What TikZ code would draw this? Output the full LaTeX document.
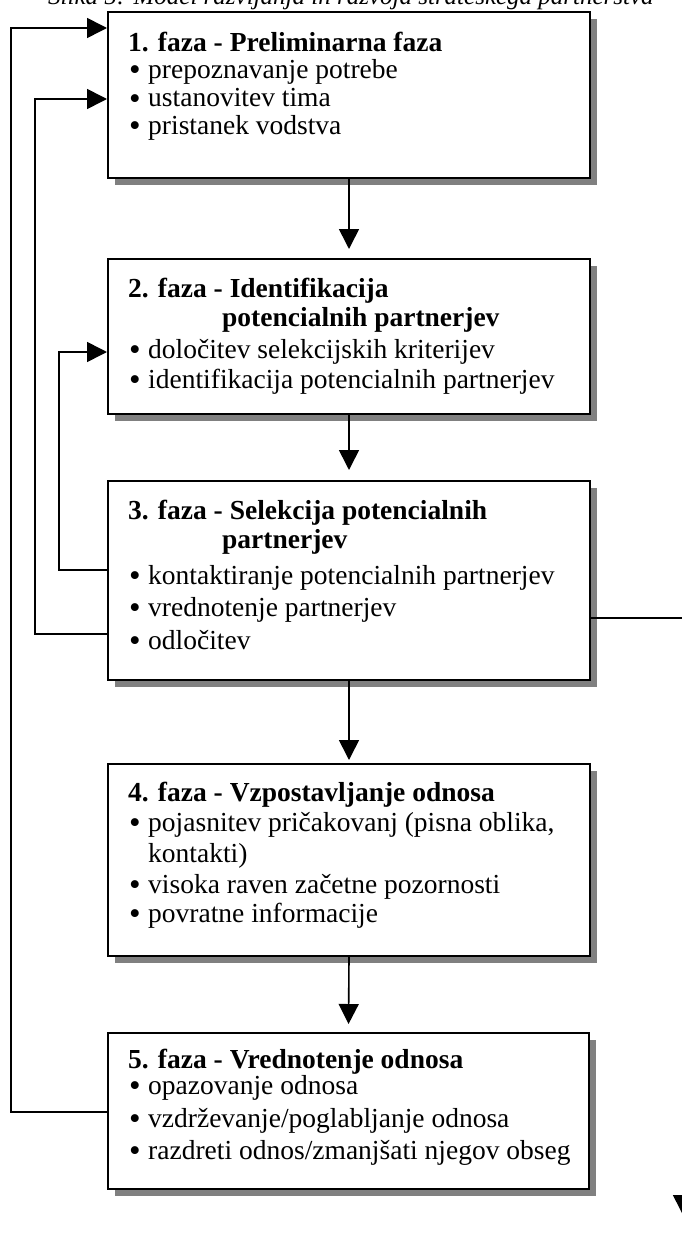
\documentclass[tikz,border=0pt]{standalone}
\usepackage{fontspec}
\setmainfont{Liberation Serif}
\usetikzlibrary{arrows.meta,shadows}
\newcommand{\bul}{\makebox[19pt][l]{\raisebox{-2pt}[0pt][0pt]{\scalebox{1.2}{•}}}}
\begin{document}
\begin{tikzpicture}[x=1pt,y=-1pt,
  phasebox/.style={draw, line width=2pt, fill=white, inner sep=0pt, anchor=north west,
    drop shadow={shadow xshift=7pt, shadow yshift=-7pt, fill=black!50, opacity=1}},
  txt/.style={anchor=base west, inner sep=0pt, font=\fontsize{27.5}{31}\selectfont},
  conn/.style={line width=1.6pt, -{Triangle[length=20pt,width=20pt]}}]
\useasboundingbox (0,0) rectangle (682,1236);

% caption line, cut at the top edge
\node[anchor=base west, inner sep=0pt, font=\fontsize{25}{28}\selectfont\itshape] (cap) at (48,5)
  {Slika 5: Model razvijanja in razvoja strateškega partnerstva};

% phase boxes
\node[phasebox, minimum width=482pt, minimum height=166pt] (p1) at (107,11) {};
\node[phasebox, minimum width=482pt, minimum height=155pt] (p2) at (107,258) {};
\node[phasebox, minimum width=482pt, minimum height=199pt] (p3) at (107,480) {};
\node[phasebox, minimum width=482pt, minimum height=192pt] (p4) at (107,763) {};
\node[phasebox, minimum width=481pt, minimum height=156pt] (p5) at (107,1032) {};

% phase 1
\node[txt] (p1t) at (128,52) {\textbf{1. faza - Preliminarna faza}};
\node[txt] (p1a) at (129,79) {\bul prepoznavanje potrebe};
\node[txt] (p1b) at (129,107) {\bul ustanovitev tima};
\node[txt] (p1c) at (129,135) {\bul pristanek vodstva};

% phase 2
\node[txt] (p2t) at (128,297) {\textbf{2. faza - Identifikacija}};
\node[txt] (p2u) at (222,326) {\textbf{potencialnih partnerjev}};
\node[txt] (p2a) at (129,358) {\bul določitev selekcijskih kriterijev};
\node[txt] (p2b) at (129,388) {\bul identifikacija potencialnih partnerjev};

% phase 3
\node[txt] (p3t) at (128,519) {\textbf{3. faza - Selekcija potencialnih}};
\node[txt] (p3u) at (222,548) {\textbf{partnerjev}};
\node[txt] (p3a) at (129,584) {\bul kontaktiranje potencialnih partnerjev};
\node[txt] (p3b) at (129,616) {\bul vrednotenje partnerjev};
\node[txt] (p3c) at (129,649) {\bul odločitev};

% phase 4
\node[txt] (p4t) at (128,801) {\textbf{4. faza - Vzpostavljanje odnosa}};
\node[txt] (p4a) at (129,831) {\bul pojasnitev pričakovanj (pisna oblika,};
\node[txt] (p4b) at (148,862) {kontakti)};
\node[txt] (p4c) at (129,893) {\bul visoka raven začetne pozornosti};
\node[txt] (p4d) at (129,922) {\bul povratne informacije};

% phase 5
\node[txt] (p5t) at (128,1068) {\textbf{5. faza - Vrednotenje odnosa}};
\node[txt] (p5a) at (129,1094) {\bul opazovanje odnosa};
\node[txt] (p5b) at (129,1127) {\bul vzdrževanje/poglabljanje odnosa};
\node[txt] (p5c) at (129,1159) {\bul razdreti odnos/zmanjšati njegov obseg};

% forward flow
\draw[conn, shorten >=9pt] (p1.south) -- (p2.north);
\draw[conn, shorten >=10pt] (p2.south) -- (p3.north);
\draw[conn, shorten >=3pt] (p3.south) -- (p4.north);
\draw[conn, shorten >=8pt] (p4.south) -- (p5.north);

% feedback loops
\coordinate (a1) at (59,570);
\coordinate (a2) at (59,352);
\draw[conn] (p3.west |- a1) -- (a1) -- (a2) -- (p2.west |- a2);

\coordinate (b1) at (35,634);
\coordinate (b2) at (35,99);
\draw[conn] (p3.west |- b1) -- (b1) -- (b2) -- (p1.west |- b2);

\coordinate (c1) at (11,1112);
\coordinate (c2) at (11,28);
\draw[conn] (p5.west |- c1) -- (c1) -- (c2) -- (p1.west |- c2);

% exit to the right
\coordinate (r1) at (683,618);
\coordinate (r2) at (683,1215);
\draw[conn] (p3.east |- r1) -- (r1) -- (r2);
\end{tikzpicture}
\end{document}
